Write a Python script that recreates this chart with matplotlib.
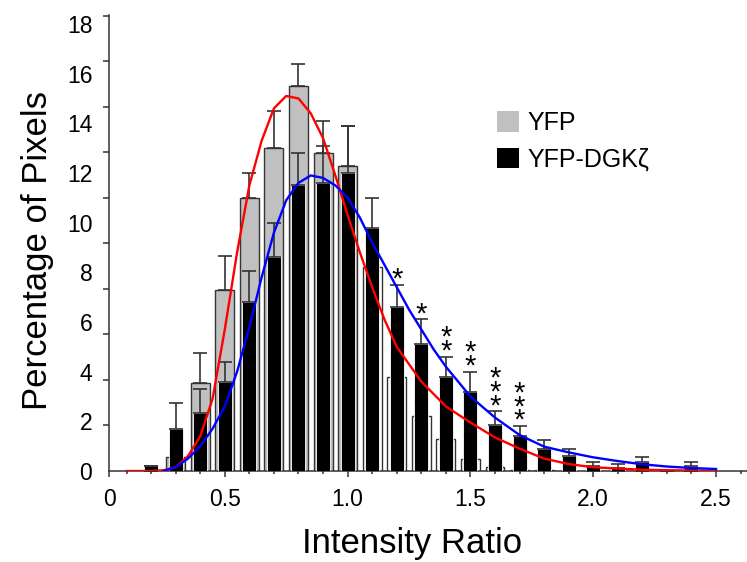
import numpy as np
import matplotlib
matplotlib.use('Agg')
import matplotlib.pyplot as plt
from matplotlib.patches import Patch

plt.rcParams['font.family'] = ['Liberation Sans', 'DejaVu Sans']

# bar data (percentage of pixels), bins of intensity ratio
bins = [0.2, 0.3, 0.4, 0.5, 0.6, 0.7, 0.8, 0.9, 1.0, 1.1, 1.2, 1.3,
        1.4, 1.5, 1.6, 1.7, 1.8, 1.9, 2.0, 2.1, 2.2, 2.3, 2.4]
yfp = [0.0, 0.55, 3.55, 7.3, 11.0, 13.0, 15.5, 12.8, 12.3, 8.2, 3.8, 2.2,
       1.3, 0.5, 0.15, 0.05, 0.05, 0.02, 0.0, 0.0, 0.0, 0.0, 0.0]
yfp_err = [0.0, 0.3, 1.2, 1.35, 1.0, 1.5, 0.9, 1.3, 1.6, 1.0, 0.8, 0.6,
           0.5, 0.3, 0.1, 0.05, 0.05, 0.0, 0.0, 0.0, 0.0, 0.0, 0.0]
dgk = [0.2, 1.7, 2.35, 3.6, 6.8, 8.6, 11.5, 11.6, 12.0, 9.8, 6.6, 5.1,
       3.8, 3.2, 1.85, 1.4, 0.9, 0.6, 0.2, 0.12, 0.36, 0.0, 0.2]
dgk_err = [0.0, 1.05, 0.95, 0.8, 1.25, 1.4, 1.3, 1.5, 1.9, 1.2, 0.9, 1.0,
           0.8, 0.8, 0.55, 0.4, 0.35, 0.3, 0.16, 0.17, 0.2, 0.0, 0.15]

# significance stars
sig_x = [1.2, 1.3, 1.4, 1.5, 1.6, 1.7]
sig_n = [1, 1, 2, 2, 3, 3]

# fitted curves
red_x = [0.10, 0.20, 0.25, 0.30, 0.35, 0.40, 0.45, 0.50, 0.55, 0.60, 0.65,
         0.70, 0.75, 0.80, 0.85, 0.90, 0.95, 1.00, 1.05, 1.10, 1.15, 1.20,
         1.30, 1.40, 1.50, 1.60, 1.70, 1.80, 1.90, 2.00, 2.20, 2.50]
red_y = [0.0, 0.0, 0.03, 0.15, 0.6, 1.4, 2.9, 5.7, 8.8, 11.5, 13.3,
         14.6, 15.1, 15.0, 14.4, 13.4, 11.9, 10.3, 8.8, 7.4, 6.1, 5.0,
         3.6, 2.6, 1.95, 1.35, 0.9, 0.5, 0.28, 0.15, 0.05, 0.0]
blue_x = [0.25, 0.30, 0.35, 0.40, 0.45, 0.50, 0.55, 0.60, 0.65, 0.70, 0.75,
          0.80, 0.85, 0.90, 0.95, 1.00, 1.05, 1.10, 1.15, 1.20, 1.25, 1.30,
          1.35, 1.40, 1.50, 1.60, 1.70, 1.80, 1.90, 2.00, 2.10, 2.20, 2.30,
          2.40, 2.50]
blue_y = [0.0, 0.15, 0.5, 1.0, 1.7, 2.6, 4.0, 5.8, 7.8, 9.6, 10.9,
          11.6, 11.9, 11.8, 11.5, 11.0, 10.2, 9.2, 8.3, 7.4, 6.5, 5.7,
          4.9, 4.2, 3.0, 2.15, 1.45, 0.98, 0.75, 0.55, 0.4, 0.27, 0.18,
          0.12, 0.08]

ytick_labels = [0, 2, 4, 6, 8, 10, 12, 14, 16, 18]
xtick_vals = [0.5, 1.0, 1.5, 2.0, 2.5]

fig = plt.figure(figsize=(7.47, 5.62), dpi=100)
ax = fig.add_axes([109/747, 1 - 471/562, 638/747, 456/562])

ink = '#333333'
gray_fill = ['#c0c0c0' if b <= 1.0 else 'white' for b in bins]

ax.bar(bins, yfp, width=0.077, color=gray_fill, edgecolor=ink, linewidth=1.0, zorder=2)
ax.errorbar(bins, yfp, yerr=[np.zeros(len(yfp)), yfp_err], fmt='none',
            ecolor=ink, elinewidth=1.2, capsize=4.7, capthick=1.2, zorder=3)
ax.bar(bins, dgk, width=0.057, color='black', edgecolor='white', linewidth=0.6, zorder=4)
ax.errorbar(bins, dgk, yerr=[np.zeros(len(dgk)), dgk_err], fmt='none',
            ecolor=ink, elinewidth=1.2, capsize=4.7, capthick=1.2, zorder=5)

ax.plot(red_x, red_y, color='#ff0000', lw=1.7, zorder=6)
ax.plot(blue_x, blue_y, color='#0000ff', lw=1.7, zorder=6)

# stacked stars as one text per bar
for sx, n in zip(sig_x, sig_n):
    i = bins.index(sx)
    top = dgk[i] + dgk_err[i]
    ax.text(sx, top - 0.35, '\n'.join(['*'] * n), ha='center', va='bottom',
            fontsize=21, linespacing=0.36, zorder=7)

ax.set_xlim(0.0285, 2.626)
ax.set_ylim(0, 18.36)

ax.spines['top'].set_visible(False)
ax.spines['right'].set_visible(False)
for s in ['left', 'bottom']:
    ax.spines[s].set_color(ink)
    ax.spines[s].set_linewidth(1.1)

ax.set_xticks([0.0285] + xtick_vals)
ax.set_xticklabels(['0'] + [f'{v:.1f}' for v in xtick_vals])
ax.set_xticks(np.arange(0.1, 2.65, 0.1), minor=True)
ax.tick_params(axis='x', which='major', length=4.3, width=1.1, color=ink,
               labelsize=16.5, pad=8)
ax.tick_params(axis='x', which='minor', length=2.5, width=1.1, color=ink)

ax.set_yticks(ytick_labels)
ax.set_yticks(np.arange(0, 18.4, 45.5 / 24.83), minor=True)
ax.tick_params(axis='y', which='major', length=0, labelsize=16.5, pad=12)
ax.tick_params(axis='y', which='minor', length=4.3, width=1.1, color=ink)

fig.text(412/747, 1 - 543/562, 'Intensity Ratio', ha='center', va='center', fontsize=25)
fig.text(38/747, 1 - 250/562, 'Percentage of Pixels', ha='center', va='center',
         rotation=90, fontsize=25)

handles = [Patch(facecolor='#c0c0c0', edgecolor='none'),
           Patch(facecolor='black', edgecolor='none')]
ax.legend(handles, ['YFP', 'YFP-DGK\u03b6'], loc='upper left',
          bbox_to_anchor=(497/747, 1 - 111/562), bbox_transform=fig.transFigure,
          frameon=False, fontsize=18, handlelength=0.9, handleheight=0.9,
          handletextpad=0.3, labelspacing=0.5, borderpad=0, borderaxespad=0)

fig.savefig('out.png', dpi=100)
